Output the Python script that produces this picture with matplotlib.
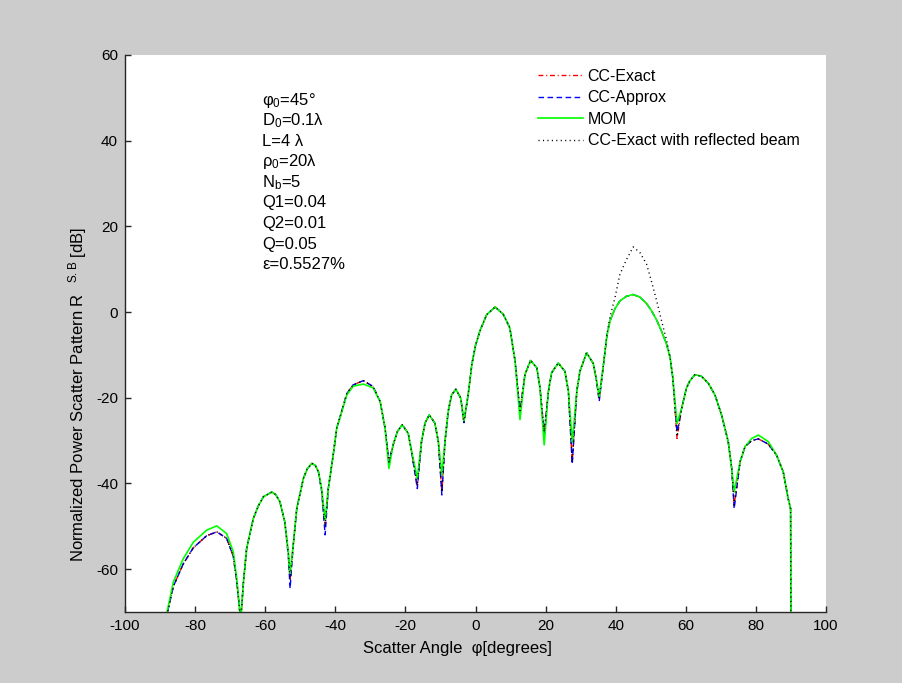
import matplotlib
matplotlib.use("Agg")
import matplotlib.pyplot as plt

plt.rcParams['font.family'] = ['Liberation Sans', 'DejaVu Sans']
plt.rcParams['mathtext.fontset'] = 'custom'
plt.rcParams['mathtext.rm'] = 'Liberation Sans'
plt.rcParams['mathtext.it'] = 'Liberation Sans:italic'
plt.rcParams['axes.unicode_minus'] = False

# scatter angle [deg]
phi = [
    -88.4, -88.0, -86.2, -83.4, -80.5, -76.7, -73.8, -71.0, -69.1, -68.1, -67.0,
    -66.2, -65.3, -63.4, -62.0, -60.5, -58.1, -57.0, -55.8, -54.4, -53.4, -52.9,
    -52.0, -51.0, -49.1, -48.0, -46.7, -45.7, -44.8, -43.9, -42.9,
    -42.0, -40.6, -39.6, -38.7, -36.7, -34.9, -32.0, -29.2, -27.2, -25.8, -24.7,
    -23.5, -22.3, -20.9, -19.2, -18.4, -16.6,
    -15.4, -14.4, -13.2, -11.6, -10.6, -9.6,
    -8.7, -7.8, -6.8, -5.6, -4.2, -3.3,
    -2.1, -1.0, 0.0, 1.3, 3.2, 5.6, 7.9, 9.8, 11.3, 12.7,
    14.1, 15.7, 17.5, 18.4, 19.6,
    20.8, 21.7, 23.6, 25.5, 26.5, 27.6,
    28.9, 29.8, 31.7, 33.6, 34.4, 35.3,
    36.5, 37.5, 38.4, 39.8, 41.2, 43.1, 45.0, 46.9, 48.8, 50.3, 51.7, 53.1, 54.5, 55.5, 56.3, 57.5,
    58.8, 60.2, 61.2, 62.6, 64.5, 66.4, 68.3, 70.2, 72.1, 73.1, 73.8,
    75.5, 76.9, 78.8, 80.7, 83.5, 85.9, 87.8, 89.2, 89.9, 90.0,
]

# MOM reference solution [dB]
mom = [
    -76.0, -70.0, -63.0, -57.6, -53.7, -50.9, -49.9, -51.7, -56.0, -62.3, -72.0,
    -63.0, -55.2, -48.2, -45.3, -43.1, -42.0, -42.6, -44.3, -49.0, -56.0, -61.0,
    -54.4, -45.9, -38.8, -36.6, -35.3, -35.8, -37.3, -41.2, -48.6,
    -41.2, -33.4, -27.1, -24.8, -19.3, -17.3, -16.8, -17.7, -20.9, -27.1, -36.5,
    -31.0, -27.9, -26.3, -28.3, -31.8, -38.8,
    -30.2, -25.9, -24.0, -25.9, -30.2, -38.0,
    -30.2, -23.2, -19.3, -18.0, -20.1, -25.4,
    -19.3, -12.0, -7.8, -4.3, -0.6, 1.2, -0.5, -3.7, -11.5, -25.1,
    -14.6, -11.3, -13.0, -17.7, -31.0,
    -18.5, -14.2, -11.9, -13.8, -18.5, -30.4,
    -18.5, -13.8, -9.5, -12.0, -15.4, -19.7,
    -12.3, -5.5, -2.0, 0.8, 2.6, 3.7, 4.1, 3.5, 2.0, 0.2, -1.9, -4.5, -7.5, -10.5, -15.4, -26.0,
    -22.5, -17.7, -16.0, -14.6, -15.0, -16.6, -19.3, -24.0, -30.2, -36.5, -42.0,
    -34.9, -31.4, -29.5, -28.7, -30.2, -33.4, -37.3, -43.5, -45.9, -80.0,
]

# current-coincidence, exact kernel [dB]
cc_exact = [
    -76.0, -70.5, -64.0, -58.8, -55.0, -52.2, -51.3, -52.8, -57.0, -63.0, -72.0,
    -63.0, -55.2, -48.2, -45.3, -43.1, -42.0, -42.6, -44.3, -49.0, -56.5, -62.5,
    -54.4, -45.9, -38.8, -36.6, -35.3, -35.8, -37.3, -41.5, -50.0,
    -41.2, -33.4, -27.1, -24.6, -19.0, -17.0, -16.0, -17.4, -20.9, -27.1, -35.0,
    -31.0, -27.9, -26.3, -28.3, -31.8, -40.5,
    -30.2, -25.9, -24.0, -25.9, -30.2, -42.0,
    -30.2, -23.2, -19.3, -18.0, -20.1, -25.8,
    -19.3, -12.0, -7.8, -4.3, -0.6, 1.2, -0.5, -3.7, -11.5, -23.0,
    -14.6, -11.3, -13.0, -17.7, -28.0,
    -18.5, -14.2, -11.9, -13.8, -18.5, -35.0,
    -18.5, -13.8, -9.5, -12.0, -15.4, -20.5,
    -12.3, -5.5, -2.0, 0.8, 2.6, 3.7, 4.1, 3.5, 2.0, 0.2, -1.9, -4.5, -7.5, -10.5, -15.4, -29.5,
    -22.5, -17.7, -16.0, -14.6, -15.0, -16.6, -19.3, -24.0, -30.2, -36.5, -45.0,
    -34.9, -31.4, -30.0, -29.6, -30.8, -33.4, -37.3, -43.5, -45.9, -80.0,
]

# current-coincidence, approximate kernel [dB]
cc_approx = [
    -76.0, -70.5, -64.0, -58.8, -55.0, -52.2, -51.3, -52.8, -57.0, -63.0, -72.0,
    -63.0, -55.2, -48.2, -45.3, -43.1, -42.0, -42.6, -44.3, -49.0, -57.0, -64.5,
    -54.4, -45.9, -38.8, -36.6, -35.3, -35.8, -37.3, -41.8, -52.0,
    -41.2, -33.4, -27.1, -24.6, -19.0, -17.0, -16.0, -17.4, -20.9, -27.1, -35.0,
    -31.0, -27.9, -26.3, -28.3, -31.8, -41.2,
    -30.2, -25.9, -24.0, -25.9, -30.2, -42.7,
    -30.2, -23.2, -19.3, -18.0, -20.1, -25.8,
    -19.3, -12.0, -7.8, -4.3, -0.6, 1.2, -0.5, -3.7, -11.5, -23.5,
    -14.6, -11.3, -13.0, -17.7, -29.0,
    -18.5, -14.2, -11.9, -13.8, -18.5, -35.5,
    -18.5, -13.8, -9.5, -12.0, -15.4, -20.8,
    -12.3, -5.5, -2.0, 0.8, 2.6, 3.7, 4.1, 3.5, 2.0, 0.2, -1.9, -4.5, -7.5, -10.5, -15.4, -28.0,
    -22.5, -17.7, -16.0, -14.6, -15.0, -16.6, -19.3, -24.0, -30.2, -36.5, -45.9,
    -34.9, -31.4, -30.0, -29.6, -30.8, -33.4, -37.3, -43.5, -45.9, -80.0,
]

# reflected beam around phi = 45 deg [dB]
beam = {
    35.3: -20.0, 36.5: -12.3, 37.5: -5.0, 38.4: -1.0, 39.8: 3.4, 41.2: 8.8,
    43.1: 12.3, 45.0: 15.2, 46.9: 13.9, 48.8: 11.2, 50.3: 6.9, 51.7: 2.6,
    53.1: -2.1, 54.5: -6.5, 55.5: -10.5, 56.3: -15.4, 57.5: -29.0,
}
reflected = [beam.get(p, v) for p, v in zip(phi, cc_exact)]

params = [
    'φ$_0$=45°',
    'D$_0$=0.1λ',
    'L=4 λ',
    'ρ$_0$=20λ',
    'N$_\\mathrm{b}$=5',
    'Q1=0.04',
    'Q2=0.01',
    'Q=0.05',
    'ε=0.5527%',
]

fig = plt.figure(figsize=(9.02, 6.83), dpi=100, facecolor='#cccccc')
ax = fig.add_axes([125 / 902, 1 - 612 / 683, 701 / 902, 557 / 683])

ax.plot(phi, cc_exact, color='#ff0000', lw=1.0, ls=(0, (3.5, 2, 0.8, 2)), label='CC-Exact')
ax.plot(phi, cc_approx, color='#0000ff', lw=1.0, ls=(0, (4, 2.5)), label='CC-Approx')
ax.plot(phi, mom, color='#00ff00', lw=1.2, ls='-', label='MOM')
ax.plot(phi, reflected, color='black', lw=1.0, ls=(0, (0.8, 2.4)), label='CC-Exact with reflected beam')

ax.set_xlim(-100, 100)
ax.set_ylim(-70, 60)
ax.set_xticks(range(-100, 101, 20))
ax.set_yticks(range(-60, 61, 20))

# box off, ticks inside
ax.spines['top'].set_visible(False)
ax.spines['right'].set_visible(False)
for s in ('left', 'bottom'):
    ax.spines[s].set_linewidth(1.0)
    ax.spines[s].set_color('#262626')
ax.tick_params(direction='in', length=4, width=1.0, labelsize=11, pad=5, colors='#262626')
ax.tick_params(labelcolor='black')

ax.set_xlabel('Scatter Angle  φ[degrees]', fontsize=12)
ax.xaxis.set_label_coords(0.474, -(648 - 612) / 557)
ax.xaxis.label.set_va('center')
ax.set_ylabel('Normalized Power Scatter Pattern R $^{\\ \\ \\mathrm{S.B}}$ [dB]', fontsize=12)
ax.yaxis.set_label_coords(-(125 - 78) / 701, (612 - 394) / 557)
ax.yaxis.label.set_va('center')

# simulation parameters
for i, s in enumerate(params):
    y = 100 + 20.6 * i
    ax.text((262 - 125) / 701, (612 - y) / 557, s, transform=ax.transAxes,
            fontsize=12, ha='left', va='center')

ax.legend(loc='upper left', bbox_to_anchor=((538 - 125) / 701, (612 - 69) / 557),
          frameon=False, fontsize=11.5, handlelength=2.8, handletextpad=0.3,
          labelspacing=0.4, borderpad=0, borderaxespad=0)

fig.savefig('out.png', dpi=100, facecolor=fig.get_facecolor())
